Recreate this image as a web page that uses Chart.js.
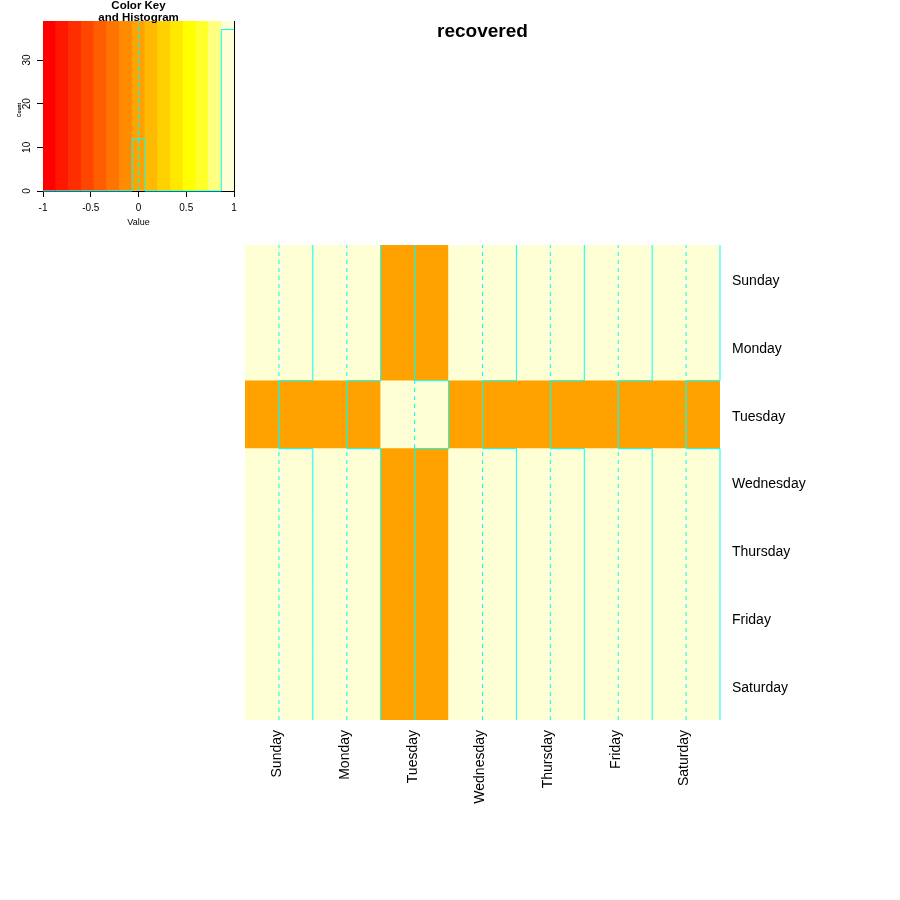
<!DOCTYPE html>
<html><head><meta charset="utf-8">
<script src="https://cdn.jsdelivr.net/npm/chart.js@4"></script>
<style>
html,body{margin:0;padding:0;background:#fff;}
#wrap{position:relative;width:900px;height:900px;background:#fff;}
canvas{position:absolute;left:0;top:0;}
</style></head>
<body><div id="wrap">
<canvas id="heat" width="900" height="900" style="width:900px;height:900px"></canvas>
<canvas id="key" width="250" height="235" style="width:250px;height:235px"></canvas>
</div>
<script>
// ---------- data ----------
const chartTitle = "recovered";
const keyTitle = ["Color Key", "and Histogram"];
const keyXLabel = "Value";
const keyYLabel = "Count";
const days = ["Sunday","Monday","Tuesday","Wednesday","Thursday","Friday","Saturday"];
// rows = days (top to bottom), columns = days (left to right)
const cellValues = [
  [1,1,0,1,1,1,1],
  [1,1,0,1,1,1,1],
  [0,0,1,0,0,0,0],
  [1,1,0,1,1,1,1],
  [1,1,0,1,1,1,1],
  [1,1,0,1,1,1,1],
  [1,1,0,1,1,1,1]
];
const keyBreaks = [-1,-0.867,-0.733,-0.6,-0.467,-0.333,-0.2,-0.067,0.067,0.2,0.333,0.467,0.6,0.733,0.867,1];
const keyColors = ["#FF0000","#FF1700","#FF2E00","#FF4600","#FF5D00","#FF7400","#FF8B00","#FFA200",
                   "#FFB900","#FFD100","#FFE800","#FFFF00","#FFFF2A","#FFFF80","#FFFFD5"];
const histCounts = [0,0,0,0,0,0,0,12,0,0,0,0,0,0,37];
const keyXTicks = [-1,-0.5,0,0.5,1];
const keyYTicks = [0,10,20,30];
const traceCentre = 0;   // vline value
const traceColor = "#00FFFF";
const FONT = "'Liberation Sans', Arial, Helvetica, sans-serif";

Chart.defaults.font.family = FONT;
Chart.defaults.color = "#000";

function colorFor(v){
  for (let k = 0; k < keyColors.length; k++){
    if (v >= keyBreaks[k] && (v < keyBreaks[k+1] || k === keyColors.length-1)) return keyColors[k];
  }
  return keyColors[keyColors.length-1];
}
const keyMin = keyBreaks[0], keyMax = keyBreaks[keyBreaks.length-1];
function scale01(v){ return (v - keyMin) / (keyMax - keyMin); }

// ---------- heatmap ----------
const nR = days.length, nC = days.length;
const heatDatasets = [];
// stacked bars: bottom row first
for (let r = nR - 1; r >= 0; r--){
  heatDatasets.push({
    type: 'bar', label: days[r],
    data: cellValues[r].map(() => 1),
    backgroundColor: cellValues[r].map(colorFor),
    borderColor: cellValues[r].map(colorFor),
    borderWidth: 0, barPercentage: 1, categoryPercentage: 1, grouped: false,
    xAxisID: 'x', yAxisID: 'y', order: 10
  });
}
// column traces
for (let c = 0; c < nC; c++){
  const cx = c + scale01(traceCentre);
  heatDatasets.push({
    type: 'line', data: [{x: cx, y: 0}, {x: cx, y: nR}],
    borderColor: traceColor, borderWidth: 1, borderDash: [4,4],
    pointRadius: 0, xAxisID: 'xl', yAxisID: 'yt', order: 2, clip: false
  });
  const pts = [];
  const xOf = r => c + scale01(cellValues[r][c]);
  pts.push({x: xOf(nR-1), y: 0});
  for (let k = 1; k <= nR; k++){
    pts.push({x: xOf(nR - k), y: k});
  }
  heatDatasets.push({
    type: 'line', data: pts, stepped: true,
    borderColor: traceColor, borderWidth: 1,
    pointRadius: 0, xAxisID: 'xl', yAxisID: 'yt', order: 1, clip: false
  });
}

const heatTitlePlugin = {
  id: 'heatTitle',
  afterDraw(chart){
    const ctx = chart.ctx, a = chart.chartArea;
    ctx.save();
    ctx.font = "bold 19px " + FONT;
    ctx.fillStyle = "#000";
    ctx.textAlign = "center";
    ctx.textBaseline = "alphabetic";
    ctx.fillText(chartTitle, (a.left + a.right)/2, 37);
    ctx.restore();
  }
};

new Chart(document.getElementById('heat'), {
  type: 'bar',
  data: { labels: days, datasets: heatDatasets },
  options: {
    responsive: false, animation: false, devicePixelRatio: 1,
    layout: { padding: { left: 245, top: 245, right: 0, bottom: 0 } },
    plugins: { legend: {display: false}, tooltip: {enabled: false}, title: {display: false} },
    scales: {
      x: { type: 'category', position: 'bottom', stacked: true, offset: true,
           grid: {display: false}, border: {display: false},
           ticks: { font: {size: 14, family: FONT}, color: '#000', minRotation: 90, maxRotation: 90,
                    autoSkip: false, padding: 2, labelOffset: -2 },
           afterFit: s => { s.height = 180; } },
      y: { type: 'linear', stacked: true, min: 0, max: nR, display: false, offset: false },
      xl: { type: 'linear', min: 0, max: nC, display: false, offset: false },
      yt: { type: 'linear', min: 0, max: nR, display: false, offset: false },
      yl: { type: 'category', labels: days, position: 'right', offset: true,
            grid: {display: false}, border: {display: false},
            ticks: { font: {size: 14, family: FONT}, color: '#000', padding: 4, autoSkip: false, labelOffset: 2 },
            afterFit: s => { s.width = 180; } }
    }
  },
  plugins: [heatTitlePlugin]
});

// ---------- colour key ----------
const histY = histCounts.concat([histCounts[histCounts.length-1]]);
const keyTop = Math.max(...histCounts) / 0.95;

const keyTextPlugin = {
  id: 'keyText',
  afterDraw(chart){
    const ctx = chart.ctx, a = chart.chartArea, ys = chart.scales.y;
    const cx = (a.left + a.right)/2;
    ctx.save();
    ctx.fillStyle = "#000";
    ctx.textAlign = "center";
    ctx.textBaseline = "middle";
    ctx.font = "bold 11.5px " + FONT;
    ctx.fillText(keyTitle[0], cx, 5.5);
    ctx.fillText(keyTitle[1], cx, 17.5);
    ctx.font = "9px " + FONT;
    ctx.fillText(keyXLabel, cx, 222.5);
    ctx.font = "10px " + FONT;
    keyYTicks.forEach(v => {
      const py = ys.getPixelForValue(v);
      ctx.save();
      ctx.translate(27.5, py);
      ctx.rotate(-Math.PI/2);
      ctx.fillText(String(v), 0, 0);
      ctx.restore();
    });
    ctx.save();
    ctx.font = "bold 5px " + FONT;
    ctx.translate(19.5, (a.top + a.bottom)/2 + 4);
    ctx.rotate(-Math.PI/2);
    ctx.fillText(keyYLabel, 0, 0);
    ctx.restore();
    ctx.restore();
  }
};

new Chart(document.getElementById('key'), {
  type: 'bar',
  data: {
    labels: keyColors.map((c, i) => String(i)),
    datasets: [
      { type: 'bar', data: keyColors.map(() => [0, keyTop]), backgroundColor: keyColors,
        borderWidth: 0, barPercentage: 1, categoryPercentage: 1, grouped: false,
        xAxisID: 'x', yAxisID: 'y', order: 10 },
      { type: 'line', data: [{x: traceCentre, y: 0}, {x: traceCentre, y: keyTop}],
        borderColor: traceColor, borderWidth: 1.5, borderDash: [4,4], pointRadius: 0,
        xAxisID: 'xl', yAxisID: 'y', order: 2, clip: false },
      { type: 'line', data: keyBreaks.map((b, k) => ({x: b, y: histY[k]})), stepped: true,
        borderColor: traceColor, borderWidth: 1, pointRadius: 0,
        xAxisID: 'xl', yAxisID: 'y', order: 1, clip: false }
    ]
  },
  options: {
    responsive: false, animation: false, devicePixelRatio: 1,
    layout: { padding: { left: 0, top: 21, right: 0, bottom: 0 } },
    plugins: { legend: {display: false}, tooltip: {enabled: false} },
    scales: {
      x: { type: 'category', display: false, offset: true },
      xl: { type: 'linear', position: 'bottom', min: keyMin, max: keyMax, offset: false,
            afterBuildTicks: s => { s.ticks = keyXTicks.map(v => ({value: v})); },
            grid: { drawOnChartArea: false, drawTicks: true, tickLength: 6, color: '#000', offset: false },
            border: { display: true, color: '#000', width: 1 },
            ticks: { font: {size: 10, family: FONT}, color: '#000', padding: 5, maxRotation: 0,
                     callback: v => String(v) },
            afterFit: s => { s.height = 44; } },
      y: { type: 'linear', position: 'left', min: 0, max: keyTop, offset: false,
           afterBuildTicks: s => { s.ticks = keyYTicks.map(v => ({value: v})); },
           grid: { drawOnChartArea: false, drawTicks: true, tickLength: 6, color: '#000' },
           border: { display: true, color: '#000', width: 1 },
           ticks: { display: false },
           afterFit: s => { s.width = 43; } },
      yr: { type: 'linear', position: 'right', min: 0, max: keyTop, offset: false,
            grid: { display: false }, border: { display: true, color: '#000', width: 1 },
            ticks: { display: false },
            afterFit: s => { s.width = 16; } }
    }
  },
  plugins: [keyTextPlugin]
});
</script>
</body></html>
